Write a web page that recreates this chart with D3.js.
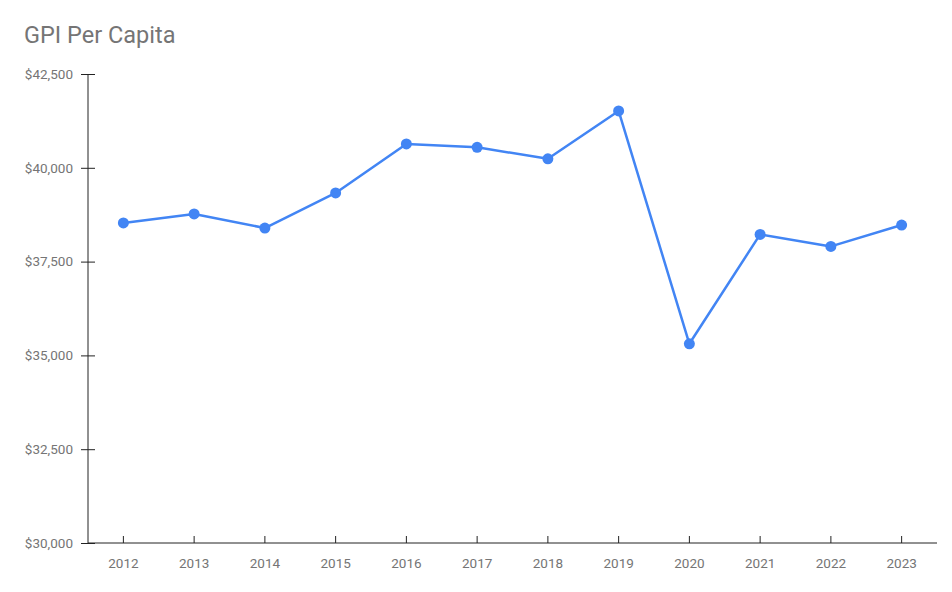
<!DOCTYPE html>
<html><head><meta charset="utf-8">
<script src="https://cdn.jsdelivr.net/npm/d3@7"></script>
<style>
body{margin:0;background:#fff;}
svg{display:block;font-family:Roboto, sans-serif;}
</style></head>
<body><svg id="c" width="952" height="592"></svg>
<script>
const years = ["2012","2013","2014","2015","2016","2017","2018","2019","2020","2021","2022","2023"];
const gpi = [38530, 38770, 38395, 39330, 40635, 40545, 40240, 41515, 35310, 38225, 37905, 38475];
const yTicks = [30000, 32500, 35000, 37500, 40000, 42500];
const title = "GPI Per Capita";

(function(){
const svg = d3.select("#c");
const mLeft = 88, mRight = 937, mTop = 74, mBottom = 543;
const x = d3.scaleBand().domain(years).range([mLeft, mRight]).padding(0);
const y = d3.scaleLinear().domain([30000, 42500]).range([mBottom, mTop]);
const cx = d => x(d) + x.bandwidth() / 2;

svg.append("text").attr("x", 24).attr("y", 43).attr("fill", "#757575")
  .attr("font-size", 23.5).text(title);

// y axis
const ya = svg.append("g").attr("transform", `translate(${mLeft},0)`)
  .call(d3.axisLeft(y).tickValues(yTicks).tickSize(7).tickPadding(8)
    .tickFormat(d => "$" + d3.format(",")(d)));
ya.select(".domain").remove();
ya.selectAll(".tick line").attr("x2", 7).attr("x1", -7).attr("stroke", "#222");
ya.selectAll(".tick text").attr("fill", "#757575").attr("font-size", 13.5)
  .attr("font-family", "Roboto, sans-serif").attr("x", -15);
svg.append("line").attr("x1", mLeft).attr("x2", mLeft).attr("y1", mTop).attr("y2", mBottom)
  .attr("stroke", "#222").attr("stroke-width", 1);

// x axis
const xa = svg.append("g").attr("transform", `translate(0,${mBottom})`)
  .call(d3.axisBottom(x).tickSize(0).tickPadding(15));
xa.select(".domain").remove();
xa.selectAll(".tick line").remove();
xa.selectAll(".tick").append("line").attr("y1", 0).attr("y2", -7).attr("stroke", "#222");
xa.selectAll(".tick text").attr("fill", "#757575").attr("font-size", 13.5)
  .attr("font-family", "Roboto, sans-serif");
svg.append("line").attr("x1", mLeft).attr("x2", mRight).attr("y1", mBottom).attr("y2", mBottom)
  .attr("stroke", "#222").attr("stroke-width", 1);

const line = d3.line().x((d, i) => cx(years[i])).y(d => y(d));
svg.append("path").datum(gpi).attr("d", line).attr("fill", "none")
  .attr("stroke", "#4285F4").attr("stroke-width", 2.5).attr("stroke-linejoin", "round");
svg.selectAll("circle.pt").data(gpi).join("circle").attr("class", "pt")
  .attr("cx", (d, i) => cx(years[i])).attr("cy", d => y(d)).attr("r", 5.5).attr("fill", "#4285F4");
})();
</script></body></html>
